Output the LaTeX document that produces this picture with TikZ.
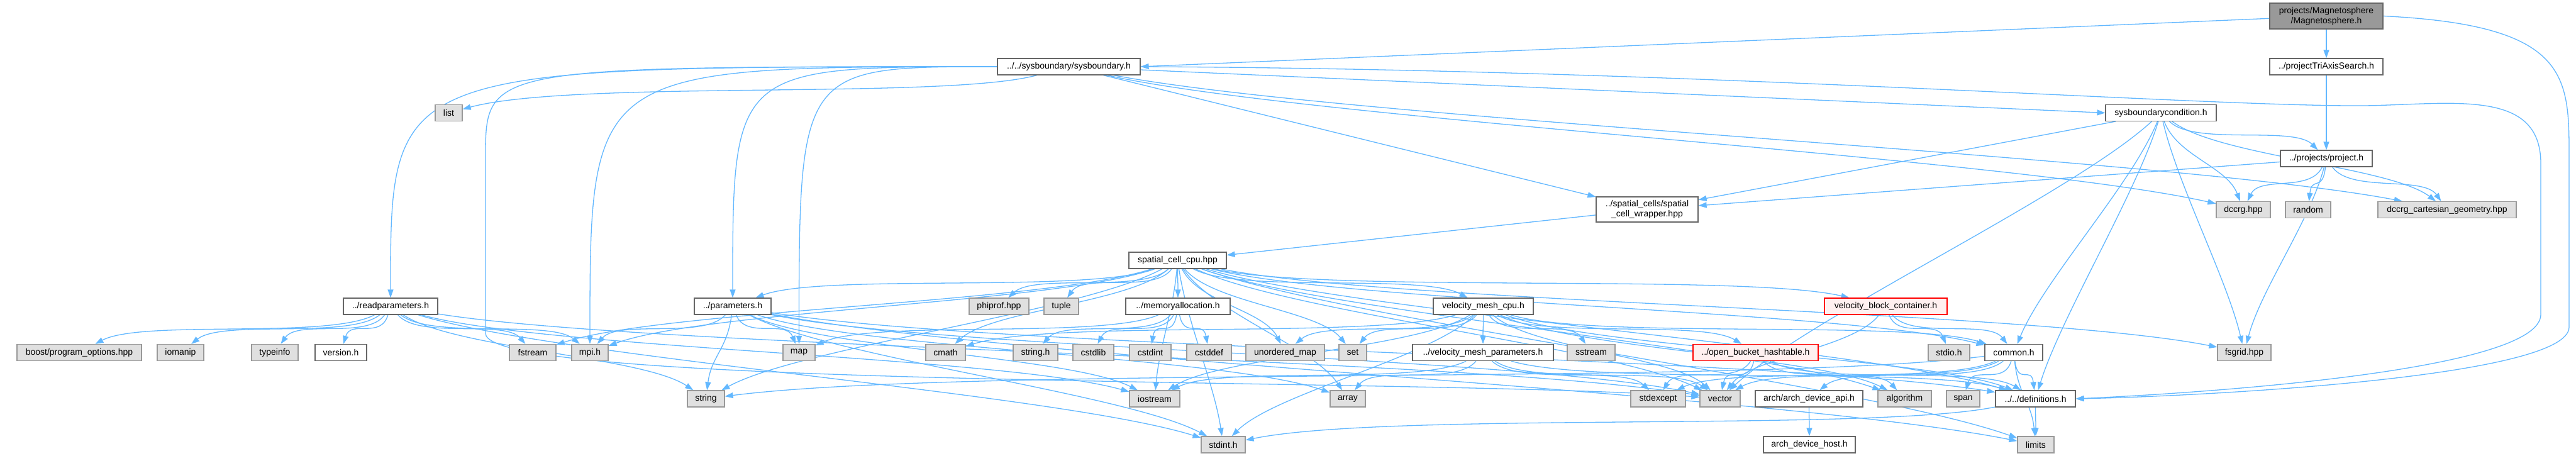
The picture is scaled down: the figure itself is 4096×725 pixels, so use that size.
\documentclass[tikz,border=0pt]{standalone}
\usepackage{fontspec}
\setmainfont{Liberation Sans}
\usepackage{tikz}
\usetikzlibrary{calc,arrows.meta,backgrounds}
\definecolor{edgeblue}{HTML}{63B8FF}
\definecolor{nodegray}{HTML}{666666}
\definecolor{extgray}{HTML}{999999}
\definecolor{extfill}{HTML}{E0E0E0}
\definecolor{mainfill}{HTML}{999999}
\definecolor{cutfill}{HTML}{FFF0F0}
\tikzstyle{incfile}  = [draw=nodegray, fill=white, line width=1.2pt, minimum height=26pt, inner xsep=6pt, inner ysep=2pt, text=black, font=\fontsize{14}{16}\selectfont]
\tikzstyle{sysinc}   = [incfile, draw=extgray, fill=extfill]
\tikzstyle{mainfile} = [incfile, fill=mainfill, align=center, minimum height=41pt]
\tikzstyle{cutfile}  = [incfile, draw=red, fill=cutfill]
\tikzstyle{dep}      = [draw=edgeblue, line width=1.3pt, -{Triangle[length=13pt,width=9pt]}]
\newcommand{\dep}[2]{\draw[dep] (#1) .. controls ($(#1.south)!0.2!(#2.north)+(0,-30)$) and ($(#2.north)!0.2!(#1.south)+(0,30)$) .. (#2);}
\newcommand{\depdown}[2]{\draw[dep] (#1.west) .. controls (#2.north |- #1.west) .. (#2.north);}
\pgfdeclarelayer{edges}
\pgfsetlayers{background,edges,main}

\begin{document}
\begin{tikzpicture}[x=1pt,y=1pt]
	\begin{pgfonlayer}{background}
		\fill[white] (0,0) rectangle (4096,-725);
	\end{pgfonlayer}
	\useasboundingbox (0,0) rectangle (4096,-725);

	% row 0 to 5
	\node[mainfile, minimum width=180pt] (mag) at (3699,-25.5) {projects/Magnetosphere\\/Magnetosphere.h};
	\node[incfile, minimum width=227pt] (sysb) at (1699.5,-106) {../../sysboundary/sysboundary.h};
	\node[incfile, minimum width=180pt] (tri) at (3699,-106) {../projectTriAxisSearch.h};
	\node[sysinc, minimum width=43pt] (list) at (713.5,-179.5) {list};
	\node[incfile, minimum width=176pt] (sbc) at (3436,-179.5) {sysboundarycondition.h};
	\node[incfile, minimum width=146pt] (proj) at (3699,-252) {../projects/project.h};
	\node[incfile, minimum width=162pt, minimum height=40pt, align=center] (wrap) at (2619,-333) {../spatial\_cells/spatial\\\_cell\_wrapper.hpp};
	\node[sysinc, minimum width=86pt] (dccrg) at (3567,-333.5) {dccrg.hpp};
	\node[sysinc, minimum width=72pt] (random) at (3670,-333.5) {random};
	\node[sysinc, minimum width=220pt] (dcart) at (3891,-333.5) {dccrg\_cartesian\_geometry.hpp};
	\node[incfile, minimum width=155pt] (scc) at (1872.5,-414) {spatial\_cell\_cpu.hpp};

	% row 6
	\node[incfile, minimum width=150pt] (readp) at (621,-487) {../readparameters.h};
	\node[incfile, minimum width=122pt] (params) at (1165,-487) {../parameters.h};
	\node[sysinc, minimum width=95pt] (phiprof) at (1588.5,-487) {phiprof.hpp};
	\node[sysinc, minimum width=55pt] (tuple) at (1687.5,-487) {tuple};
	\node[incfile, minimum width=166pt] (memalloc) at (1873,-487) {../memoryallocation.h};
	\node[incfile, minimum width=159pt] (vmesh) at (2358.5,-487) {velocity\_mesh\_cpu.h};
	\node[cutfile, minimum width=195pt] (vbc) at (2998.5,-487) {velocity\_block\_container.h};

	% row 7
	\node[sysinc, minimum width=198pt] (boost) at (126,-560.5) {boost/program\_options.hpp};
	\node[sysinc, minimum width=74pt] (iomanip) at (287,-560.5) {iomanip};
	\node[sysinc, minimum width=74pt] (typeinfo) at (437,-560.5) {typeinfo};
	\node[incfile, minimum width=82pt] (version) at (542,-560.5) {version.h};
	\node[sysinc, minimum width=74pt] (fstream) at (847,-560.5) {fstream};
	\node[sysinc, minimum width=58pt] (mpi) at (938,-560.5) {mpi.h};
	\node[sysinc, minimum width=51pt] (map) at (1270.5,-560.5) {map};
	\node[sysinc, minimum width=63pt] (cmath) at (1503.5,-560.5) {cmath};
	\node[sysinc, minimum width=71pt] (stringh) at (1646.5,-560.5) {string.h};
	\node[sysinc, minimum width=65pt] (cstdlib) at (1738.5,-560.5) {cstdlib};
	\node[sysinc, minimum width=66pt] (cstdint) at (1829,-560.5) {cstdint};
	\node[sysinc, minimum width=71pt] (cstddef) at (1922.5,-560.5) {cstddef};
	\node[sysinc, minimum width=125pt] (umap) at (2043.5,-560.5) {unordered\_map};
	\node[sysinc, minimum width=44pt] (set) at (2151,-560.5) {set};
	\node[incfile, minimum width=224pt] (vmp) at (2358,-560.5) {../velocity\_mesh\_parameters.h};
	\node[sysinc, minimum width=76pt] (sstream) at (2530,-560.5) {sstream};
	\node[cutfile, minimum width=199pt] (obh) at (2791.5,-560.5) {../open\_bucket\_hashtable.h};
	\node[sysinc, minimum width=66pt] (stdio) at (3099,-560.5) {stdio.h};
	\node[incfile, minimum width=92pt] (common) at (3202,-560.5) {common.h};
	\node[sysinc, minimum width=85pt] (fsgrid) at (3568.5,-560.5) {fsgrid.hpp};

	% row 8
	\node[sysinc, minimum width=59pt] (string) at (1122.5,-634) {string};
	\node[sysinc, minimum width=80pt] (iostream) at (1836,-634) {iostream};
	\node[sysinc, minimum width=56pt] (array) at (2143,-634) {array};
	\node[sysinc, minimum width=87pt] (stdexcept) at (2636.5,-634) {stdexcept};
	\node[sysinc, minimum width=64pt] (vector) at (2735,-634) {vector};
	\node[incfile, minimum width=171pt] (archapi) at (2876.5,-634) {arch/arch\_device\_api.h};
	\node[sysinc, minimum width=85pt] (algorithm) at (3028.5,-634) {algorithm};
	\node[sysinc, minimum width=53pt] (span) at (3121.5,-634) {span};
	\node[incfile, minimum width=127pt] (defs) at (3236.5,-634) {../../definitions.h};

	% row 9
	\node[sysinc, minimum width=70pt] (stdint) at (1945,-707) {stdint.h};
	\node[incfile, minimum width=146pt] (archhost) at (2877,-707) {arch\_device\_host.h};
	\node[sysinc, minimum width=58pt] (limits) at (3237,-707) {limits};

	% includes
	\begin{pgfonlayer}{edges}
		\draw[dep] (mag) -- (sysb.east);
		\dep{mag}{tri};
		\draw[dep] (mag.east) .. controls (4085,-40) and (4085,-120) .. (4085,-250) -- (4085,-520)
			.. controls (4085,-600) and (3500,-630) .. (defs.east);
		\dep{tri}{proj};
		\foreach \t in {readp,mpi,params,map} \depdown{sysb}{\t};
		\draw[dep] (sysb.west) .. controls (772,-106) .. (772,-250) -- (772,-530)
			.. controls (772,-620) and (2300,-600) .. (vector);
		\draw[dep] (sysb.east) .. controls (2700,-110) and (3500,-170) .. (3760,-168)
			.. controls (3900,-166) and (4040,-140) .. (4040,-260) -- (4040,-500)
			.. controls (4040,-590) and (3500,-625) .. (defs.east);
		\draw[dep] (sysb) -- (sbc.west);
		\draw[dep] (sysb) -- (wrap);
		\foreach \t in {list,dccrg,dcart} \dep{sysb}{\t};
		\draw[dep] (sbc) -- (wrap);
		\foreach \t in {proj,common,defs,fsgrid,dccrg,dcart,vector} \dep{sbc}{\t};
		\draw[dep] (proj) -- (wrap);
		\foreach \t in {dccrg,random,dcart,fsgrid} \dep{proj}{\t};
		\draw[dep] (wrap) -- (scc);
		\foreach \t in {params,phiprof,tuple,memalloc,vmesh,vbc,fstream,mpi,cmath,umap,set,iostream,string,array,stdint,vector,algorithm,limits,common,defs,fsgrid} \dep{scc}{\t};
		\foreach \t in {boost,iomanip,typeinfo,version,fstream,mpi,string,iostream,vector,stdint} \dep{readp}{\t};
		\foreach \t in {map,mpi,string,stdint,limits,vector,defs,iostream,array} \dep{params}{\t};
		\foreach \t in {map,stringh,cstdlib,cstdint,cstddef} \dep{memalloc}{\t};
		\foreach \t in {cmath,umap,set,vmp,sstream,obh,iostream,stdint,vector,algorithm,defs,common} \dep{vmesh}{\t};
		\foreach \t in {iostream,array,stdexcept,vector,defs} \dep{vmp}{\t};
		\foreach \t in {stdexcept,vector,algorithm,defs} \dep{obh}{\t};
		\foreach \t in {stdio,common,vector} \dep{vbc}{\t};
		\foreach \t in {string,vector,archapi,span,defs,limits,stdexcept} \dep{common}{\t};
		\foreach \t in {limits,stdint} \dep{defs}{\t};
		\dep{archapi}{archhost};
	\end{pgfonlayer}
\end{tikzpicture}
\end{document}
